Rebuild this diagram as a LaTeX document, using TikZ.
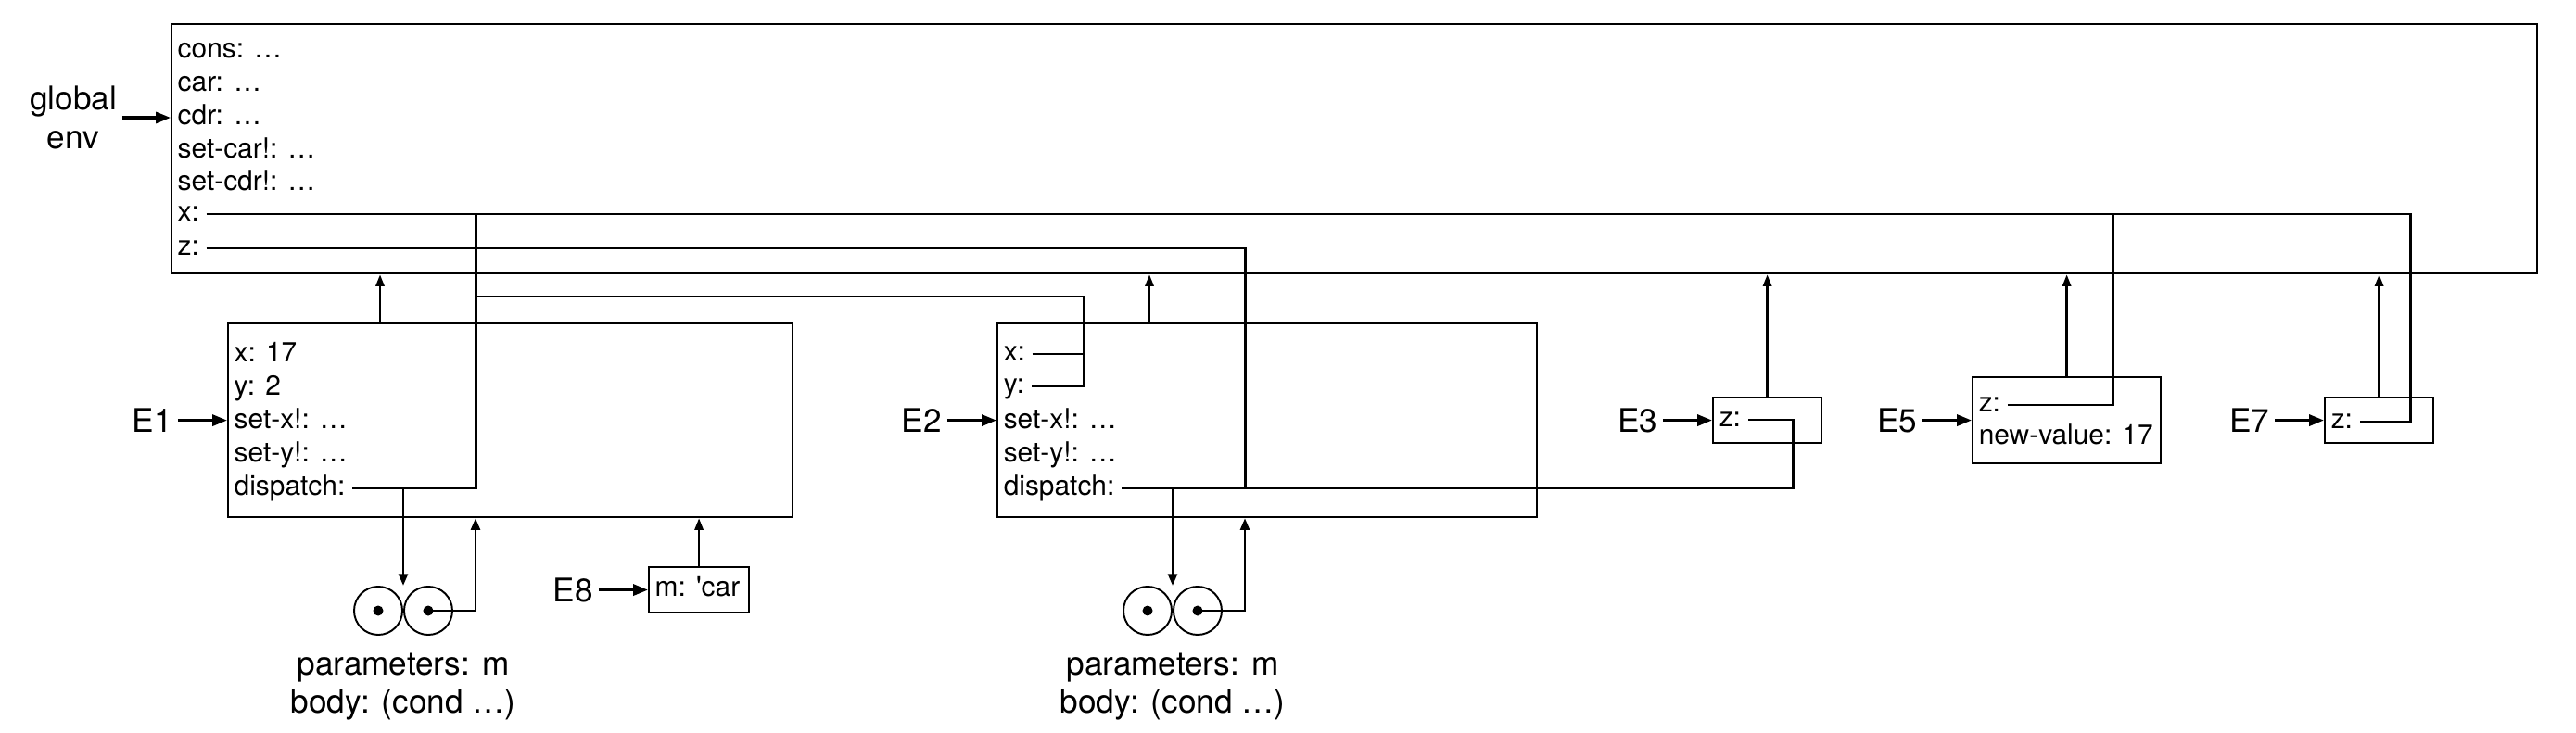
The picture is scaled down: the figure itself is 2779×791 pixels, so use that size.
\documentclass[tikz,border=0pt]{standalone}
\usepackage{fontspec}
\setmainfont{TeX Gyre Heros}
\usetikzlibrary{arrows.meta, positioning, calc}
\newcommand{\boxfont}{\fontsize{8.5}{10}\selectfont}
\newcommand{\lblfont}{\fontsize{10}{11.7}\selectfont}

\begin{document}
\begin{tikzpicture}[
    x=0.01cm, y=-0.01cm,
    frame/.style={rectangle, draw, line width=0.6pt, anchor=north west, inner sep=0pt},
    entry/.style={anchor=west, inner xsep=2pt, inner ysep=0pt, text height=4.4pt, text depth=0pt, font=\boxfont},
    envlbl/.style={inner sep=1.5pt, font=\lblfont},
    ptr/.style={line width=0.85pt},
    envptr/.style={-{Triangle[length=3.6pt,width=2.6pt]}, line width=0.75pt},
    downptr/.style={-{Triangle[length=3.6pt,width=2.8pt]}, line width=0.8pt},
    lblarrow/.style={-{Triangle[length=4.5pt,width=3.4pt]}, line width=0.9pt},
    ball/.style={circle, draw, line width=0.55pt, minimum size=0.52cm, inner sep=0pt},
    dot/.style={circle, fill, minimum size=0.11cm, inner sep=0pt},
    proclbl/.style={align=center, font=\lblfont, inner sep=0pt}
]
    \useasboundingbox (0,0) rectangle (2779,791);

    % frames
    \node[frame, minimum width=25.5cm, minimum height=2.69cm] (genv) at (184,25) {};
    \node[frame, minimum width=6.09cm, minimum height=2.09cm] (e1) at (245,348) {};
    \node[frame, minimum width=5.82cm, minimum height=2.09cm] (e2) at (1075,348) {};
    \node[frame, minimum width=1.17cm, minimum height=0.49cm] (e3) at (1847,428) {};
    \node[frame, minimum width=2.03cm, minimum height=0.93cm] (e5) at (2127,406) {};
    \node[frame, minimum width=1.17cm, minimum height=0.49cm] (e7) at (2507,428) {};
    \node[frame, minimum width=1.08cm, minimum height=0.49cm] (e8) at (699,611) {};

    % bindings
    \node[entry] (gcons) at (184,55) {cons: …};
    \node[entry] (gcar) at (184,91) {car: …};
    \node[entry] (gcdr) at (184,127) {cdr: …};
    \node[entry] (gsetcar) at (184,163) {set-car!: …};
    \node[entry] (gsetcdr) at (184,198) {set-cdr!: …};
    \node[entry] (gx) at (184,231) {x:};
    \node[entry] (gz) at (184,268) {z:};

    \node[entry] (e1x) at (245,383) {x: 17};
    \node[entry] (e1y) at (245,419) {y: 2};
    \node[entry] (e1setx) at (245,455) {set-x!: …};
    \node[entry] (e1sety) at (245,491) {set-y!: …};
    \node[entry] (e1d) at (245,527) {dispatch:};

    \node[entry] (e2x) at (1075,382) {x:};
    \node[entry] (e2y) at (1075,417) {y:};
    \node[entry] (e2setx) at (1075,455) {set-x!: …};
    \node[entry] (e2sety) at (1075,491) {set-y!: …};
    \node[entry] (e2d) at (1075,527) {dispatch:};

    \node[entry] (e3z) at (1847,453) {z:};
    \node[entry] (e5z) at (2127,437) {z:};
    \node[entry] (e5v) at (2127,472) {new-value: 17};
    \node[entry] (e7z) at (2507,455) {z:};
    \node[entry] (e8m) at (699,636) {m: \textquotesingle car};

    % frame labels
    \coordinate (gin) at (genv.west |- gcdr.west);
    \node[envlbl, align=center, left=0.52cm of gin] (glbl) {global\\env};
    \node[envlbl, left=0.53cm of e1] (l1) {E1};
    \node[envlbl, left=0.53cm of e2] (l2) {E2};
    \node[envlbl, left=0.53cm of e3] (l3) {E3};
    \node[envlbl, left=0.53cm of e5] (l5) {E5};
    \node[envlbl, left=0.53cm of e7] (l7) {E7};
    \node[envlbl, left=0.53cm of e8] (l8) {E8};

    \draw[lblarrow] (glbl) -- (gin);
    \draw[lblarrow] (l1) -- (e1);
    \draw[lblarrow] (l2) -- (e2);
    \draw[lblarrow] (l3) -- (e3);
    \draw[lblarrow] (l5) -- (e5);
    \draw[lblarrow] (l7) -- (e7);
    \draw[lblarrow] (l8) -- (e8);

    % procedure objects
    \coordinate (p1) at (435,659);
    \node[ball, left=0pt of p1] (p1a) {};
    \node[ball, right=0pt of p1] (p1b) {};
    \node[dot] (p1adot) at (p1a) {};
    \node[dot] (p1bdot) at (p1b) {};
    \node[proclbl, below=0.45cm of p1] (p1lbl) {parameters: m\\body: (cond …)};

    \coordinate (p2) at (1265,659);
    \node[ball, left=0pt of p2] (p2a) {};
    \node[ball, right=0pt of p2] (p2b) {};
    \node[dot] (p2adot) at (p2a) {};
    \node[dot] (p2bdot) at (p2b) {};
    \node[proclbl, below=0.45cm of p2] (p2lbl) {parameters: m\\body: (cond …)};

    % junction columns
    \coordinate (k1) at (513,0);
    \coordinate (k12) at (513,320);
    \coordinate (k2) at (1169,320);
    \coordinate (k3) at (1343,0);
    \coordinate (k4) at (1934,0);
    \coordinate (k5) at (2279,0);
    \coordinate (k7) at (2600,0);
    \coordinate (u1) at (410,348);
    \coordinate (u2) at (1240,348);

    % pointers
    \draw[ptr] (gx.east) -| (e7z.east -| k7) -- (e7z.east);
    \draw[ptr] (e5z.east) -| (gx.east -| k5);
    \draw[ptr] (e1d.east) -| (gx.east -| k1);
    \draw[ptr] (k12) -- (k2) |- (e2y.east);
    \draw[ptr] (e2x.east) -- (e2x.east -| k2);
    \draw[ptr] (gz.east) -| (e2d.east -| k3);
    \draw[ptr] (e2d.east) -| (e3z.east -| k4) -- (e3z.east);

    \draw[downptr] (e1d.east -| p1) -- (p1 |- p1a.north);
    \draw[downptr] (e2d.east -| p2) -- (p2 |- p2a.north);
    \draw[downptr] (p1bdot.center) -| (e1.south -| k12);
    \draw[downptr] (p2bdot.center) -| (e2.south -| k3);

    % enclosing environments
    \draw[envptr] (u1) -- (u1 |- genv.south);
    \draw[envptr] (u2) -- (u2 |- genv.south);
    \draw[envptr] (e3) -- (e3 |- genv.south);
    \draw[envptr] (e5) -- (e5 |- genv.south);
    \draw[envptr] (e7) -- (e7 |- genv.south);
    \draw[envptr] (e8) -- (e8 |- e1.south);
\end{tikzpicture}
\end{document}
